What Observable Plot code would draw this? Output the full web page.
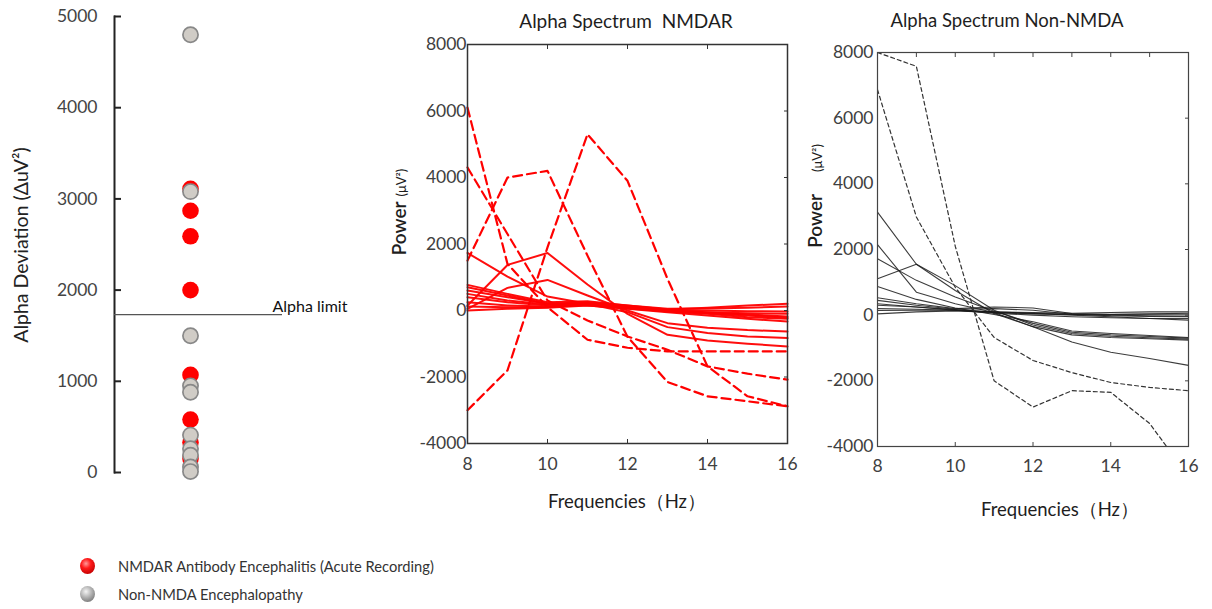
<!DOCTYPE html>
<html>
<head>
<meta charset="utf-8">
<script src="https://cdn.jsdelivr.net/npm/d3@7"></script>
<script src="https://cdn.jsdelivr.net/npm/@observablehq/plot@0.6"></script>
<style>
  html, body { margin: 0; padding: 0; background: #fff; }
  #chart { position: relative; width: 1212px; height: 609px; overflow: hidden; font-family: Lato, "Open Sans", sans-serif; }
  #chart svg { position: absolute; overflow: visible; }
  .lbl { position: absolute; white-space: pre; color: #1e1e1e; transform: translate(-50%, -50%); line-height: 1; }
  .rot { transform: translate(-50%, -50%) rotate(-90deg); }
  .legend-row { position: absolute; left: 80px; display: flex; align-items: center; font-size: 14.7px; color: #333; white-space: pre; }
  .ball { width: 15px; height: 16px; border-radius: 50%; margin-right: 23px; }
</style>
</head>
<body>
<div id="chart"></div>
<script>
// ---------------- data ----------------
const frequencies = [8, 9, 10, 11, 12, 13, 14, 15, 16];
const freqTicks = [8, 10, 12, 14, 16];
const freqTicksMinor = [9, 10, 11, 12, 13, 14, 15];
const powerTicks = [-4000, -2000, 0, 2000, 4000, 6000, 8000];
const deviationTicks = [0, 1000, 2000, 3000, 4000, 5000];

// Panel 1: alpha deviation per patient
const nmdarDeviation = [3110, 2870, 2590, 2000, 1070, 580, 330, 150];
const nonNmdaDeviation = [4800, 3080, 1500, 950, 880, 410, 260, 190, 60, 10];
const alphaLimit = 1730;
const alphaLimitLabel = "Alpha limit";

// Panel 2: NMDAR alpha spectrum (values at 8..16 Hz)
const nmdarSolid = [
  [1730, 1020, 420, 200, -50, -500, -680, -780, -830],
  [150, 1370, 1730, 780, -100, -730, -900, -1000, -1080],
  [50, 680, 920, 450, 0, -380, -520, -590, -630],
  [770, 500, 250, 280, 150, 30, 80, 150, 200],
  [700, 450, 200, 250, 150, 50, 60, 80, 120],
  [600, 400, 200, 200, 120, 20, 0, -20, -30],
  [500, 300, 180, 220, 100, 0, -60, -120, -180],
  [400, 250, 150, 150, 50, -50, -150, -250, -330],
  [250, 150, 120, 200, 100, 0, -50, -80, -100],
  [120, 100, 100, 180, 80, -30, -100, -200, -250],
  [0, 50, 80, 150, 60, -20, -80, -150, -220]
];
const nmdarDashed = [
  [6100, 1400, 100, -880, -1120, -1230, -1230, -1230, -1230],
  [4300, 2300, 300, -300, -780, -1180, -1680, -1900, -2080],
  [1500, 4000, 4200, 1650, -790, -2150, -2580, -2730, -2880],
  [-3000, -1800, 1900, 5300, 3900, 950, -1680, -2580, -2880]
];

// Panel 3: Non-NMDA alpha spectrum (values at 8..16 Hz)
const nonNmdaSolid = [
  [3140, 1550, 750, 50, -350, -600, -680, -720, -760],
  [1110, 1550, 900, 150, -300, -560, -640, -690, -730],
  [2150, 700, 350, 80, -350, -820, -1130, -1320, -1530],
  [1720, 1060, 550, 120, -250, -520, -600, -650, -700],
  [870, 480, 220, 20, -200, -480, -560, -620, -680],
  [530, 350, 200, 250, 220, 50, 30, 40, 60],
  [450, 300, 180, 200, 150, 30, -20, -40, -50],
  [350, 250, 150, 100, 50, 0, -50, -100, -150],
  [300, 250, 170, 80, 60, 30, 20, 30, 30],
  [140, 150, 150, 100, 80, 60, 80, 100, 100],
  [40, 100, 130, 80, 40, 20, 0, -20, -30],
  [200, 180, 150, 60, 0, -50, -80, -100, -100]
];
const nonNmdaDashed = [
  [8000, 7580, 2100, -2000, -2800, -2300, -2350, -3300, -4900],
  [6870, 2990, 850, -680, -1380, -1750, -2050, -2200, -2300]
];

// ---------------- helpers ----------------
const RED = "#ff0000";
const FONT = "Lato, 'Open Sans', sans-serif";
const plain = d => String(d);
function rows(series, group) {
  return series.flatMap((vals, i) => vals.map((v, j) => ({id: group + i, f: frequencies[j], v})));
}
const chart = document.getElementById("chart");
function place(svg, left, top) {
  svg.style.left = left + "px";
  svg.style.top = top + "px";
  chart.appendChild(svg);
}
function label(text, x, y, size, rotate, extra) {
  const d = document.createElement("div");
  d.className = "lbl" + (rotate ? " rot" : "");
  d.style.left = x + "px";
  d.style.top = y + "px";
  d.style.fontSize = size + "px";
  d.innerHTML = text;
  if (extra) Object.assign(d.style, extra);
  chart.appendChild(d);
}
const blank = () => "";

// ---------------- panel 1 ----------------
const p1 = Plot.plot({
  width: 300, height: 500,
  marginLeft: 114, marginRight: 18, marginTop: 16, marginBottom: 28,
  style: {fontFamily: FONT, fontSize: "17.5px", color: "#404040", background: "transparent"},
  x: {type: "point", domain: ["Alpha"], align: 0.452, axis: null},
  y: {domain: [0, 5000]},
  marks: [
    Plot.frame({anchor: "left", stroke: "#222", strokeWidth: 2}),
    Plot.axisY({ticks: deviationTicks, tickFormat: plain, tickSize: 0, tickPadding: 17, label: null, fill: "#444"}),
    Plot.axisY({ticks: deviationTicks, tickSize: 7, dx: 7, tickFormat: blank, label: null, stroke: "#222", strokeWidth: 2}),
    Plot.ruleY([alphaLimit], {stroke: "#555", strokeWidth: 1.2}),
    Plot.text([alphaLimit], {y: d => d, text: () => alphaLimitLabel, frameAnchor: "right", textAnchor: "start", dx: -10, dy: -8, fill: "#111", fontSize: 16}),
    Plot.dot(nmdarDeviation, {x: () => "Alpha", y: d => d, r: 8.3, fill: RED}),
    Plot.dot(nonNmdaDeviation, {x: () => "Alpha", y: d => d, r: 7.6, fill: "#d0ccc6", stroke: "#888", strokeWidth: 1.7})
  ]
});
place(p1, 0, 0);
label("Alpha Deviation (ΔuV²)", 21, 245, 19.5, true, {color: "#222"});

// ---------------- panel 2 ----------------
const p2 = Plot.plot({
  width: 420, height: 520,
  marginLeft: 87, marginRight: 13, marginTop: 44, marginBottom: 77,
  style: {fontFamily: FONT, fontSize: "17.5px", color: "#404040", background: "transparent"},
  x: {domain: [8, 16]},
  y: {domain: [-4000, 8000]},
  marks: [
    Plot.lineY(rows(nmdarSolid, "s"), {x: "f", y: "v", z: "id", stroke: RED, strokeWidth: 2, strokeOpacity: 0.95}),
    Plot.lineY(rows(nmdarDashed, "d"), {x: "f", y: "v", z: "id", stroke: RED, strokeWidth: 2.2, strokeDasharray: "9,5"}),
    Plot.frame({stroke: "#333", strokeWidth: 1.5}),
    Plot.axisY({ticks: powerTicks, tickFormat: plain, tickSize: 0, tickPadding: 1, label: null}),
    Plot.axisY({anchor: "right", ticks: powerTicks, tickSize: 4, dx: -4, tickFormat: blank, label: null, stroke: "#333"}),
    Plot.axisX({ticks: freqTicks, tickFormat: plain, tickSize: 0, tickPadding: 14, label: null}),
    Plot.axisX({ticks: freqTicks, tickSize: 4, dy: -4, tickFormat: blank, label: null, stroke: "#333"}),
    Plot.axisX({anchor: "top", ticks: freqTicks, tickSize: 4, dy: 4, tickFormat: blank, label: null, stroke: "#333"})
  ]
});
place(p2, 380, 0);
label("Alpha Spectrum  NMDAR", 626, 20, 19);
label("Frequencies（Hz）", 627, 501, 18.5);
label('<span style="font-size:19px;font-weight:600">Power</span> <span style="font-size:13px">(μV²)</span>', 398, 212, 19, true);

// ---------------- panel 3 ----------------
const p3 = Plot.plot({
  width: 412, height: 530,
  marginLeft: 77, marginRight: 24, marginTop: 52, marginBottom: 84,
  style: {fontFamily: FONT, fontSize: "17.5px", color: "#404040", background: "transparent"},
  x: {domain: [8, 16]},
  y: {domain: [-4000, 8000]},
  marks: [
    Plot.lineY(rows(nonNmdaSolid, "s"), {x: "f", y: "v", z: "id", stroke: "#1a1a1a", strokeWidth: 1.1, strokeOpacity: 0.85}),
    Plot.lineY(rows(nonNmdaDashed, "d"), {x: "f", y: "v", z: "id", stroke: "#333", strokeWidth: 1.2, strokeDasharray: "4,3", clip: true}),
    Plot.frame({stroke: "#444", strokeWidth: 1.2}),
    Plot.axisY({ticks: powerTicks, tickFormat: plain, tickSize: 0, tickPadding: 4, label: null}),
    Plot.axisY({anchor: "right", ticks: powerTicks, tickSize: 4, dx: -4, tickFormat: blank, label: null, stroke: "#444"}),
    Plot.axisX({ticks: freqTicks, tickFormat: plain, tickSize: 0, tickPadding: 13, label: null}),
    Plot.axisX({ticks: freqTicks, tickSize: 4, dy: -4, tickFormat: blank, label: null, stroke: "#444"}),
    Plot.axisX({anchor: "top", ticks: freqTicksMinor, tickSize: 4, dy: 4, tickFormat: blank, label: null, stroke: "#444"})
  ]
});
place(p3, 800, 0);
label("Alpha Spectrum Non-NMDA", 1007, 20, 18.5);
label("Frequencies（Hz）", 1060, 509, 18.5);
label('<span style="font-size:19px;font-weight:600">Power</span><span style="display:inline-block;width:22px"></span><span style="font-size:13px">(μV²)</span>', 814, 196, 19, true);

// ---------------- legend ----------------
const legendItems = [
  {name: "NMDAR Antibody Encephalitis (Acute Recording)", bg: "radial-gradient(circle at 40% 35%, #ff9a9a 0%, #ff1a1a 35%, #c00000 80%, #800000 100%)", top: 566},
  {name: "Non-NMDA Encephalopathy", bg: "radial-gradient(circle at 40% 35%, #f4f4f4 0%, #b5b5b5 40%, #7a7a7a 80%, #555 100%)", top: 594}
];
for (const item of legendItems) {
  const row = document.createElement("div");
  row.className = "legend-row";
  row.style.top = (item.top - 9) + "px";
  const ball = document.createElement("div");
  ball.className = "ball";
  ball.style.background = item.bg;
  const t = document.createElement("span");
  t.textContent = item.name;
  row.appendChild(ball);
  row.appendChild(t);
  chart.appendChild(row);
}
</script>
</body>
</html>
